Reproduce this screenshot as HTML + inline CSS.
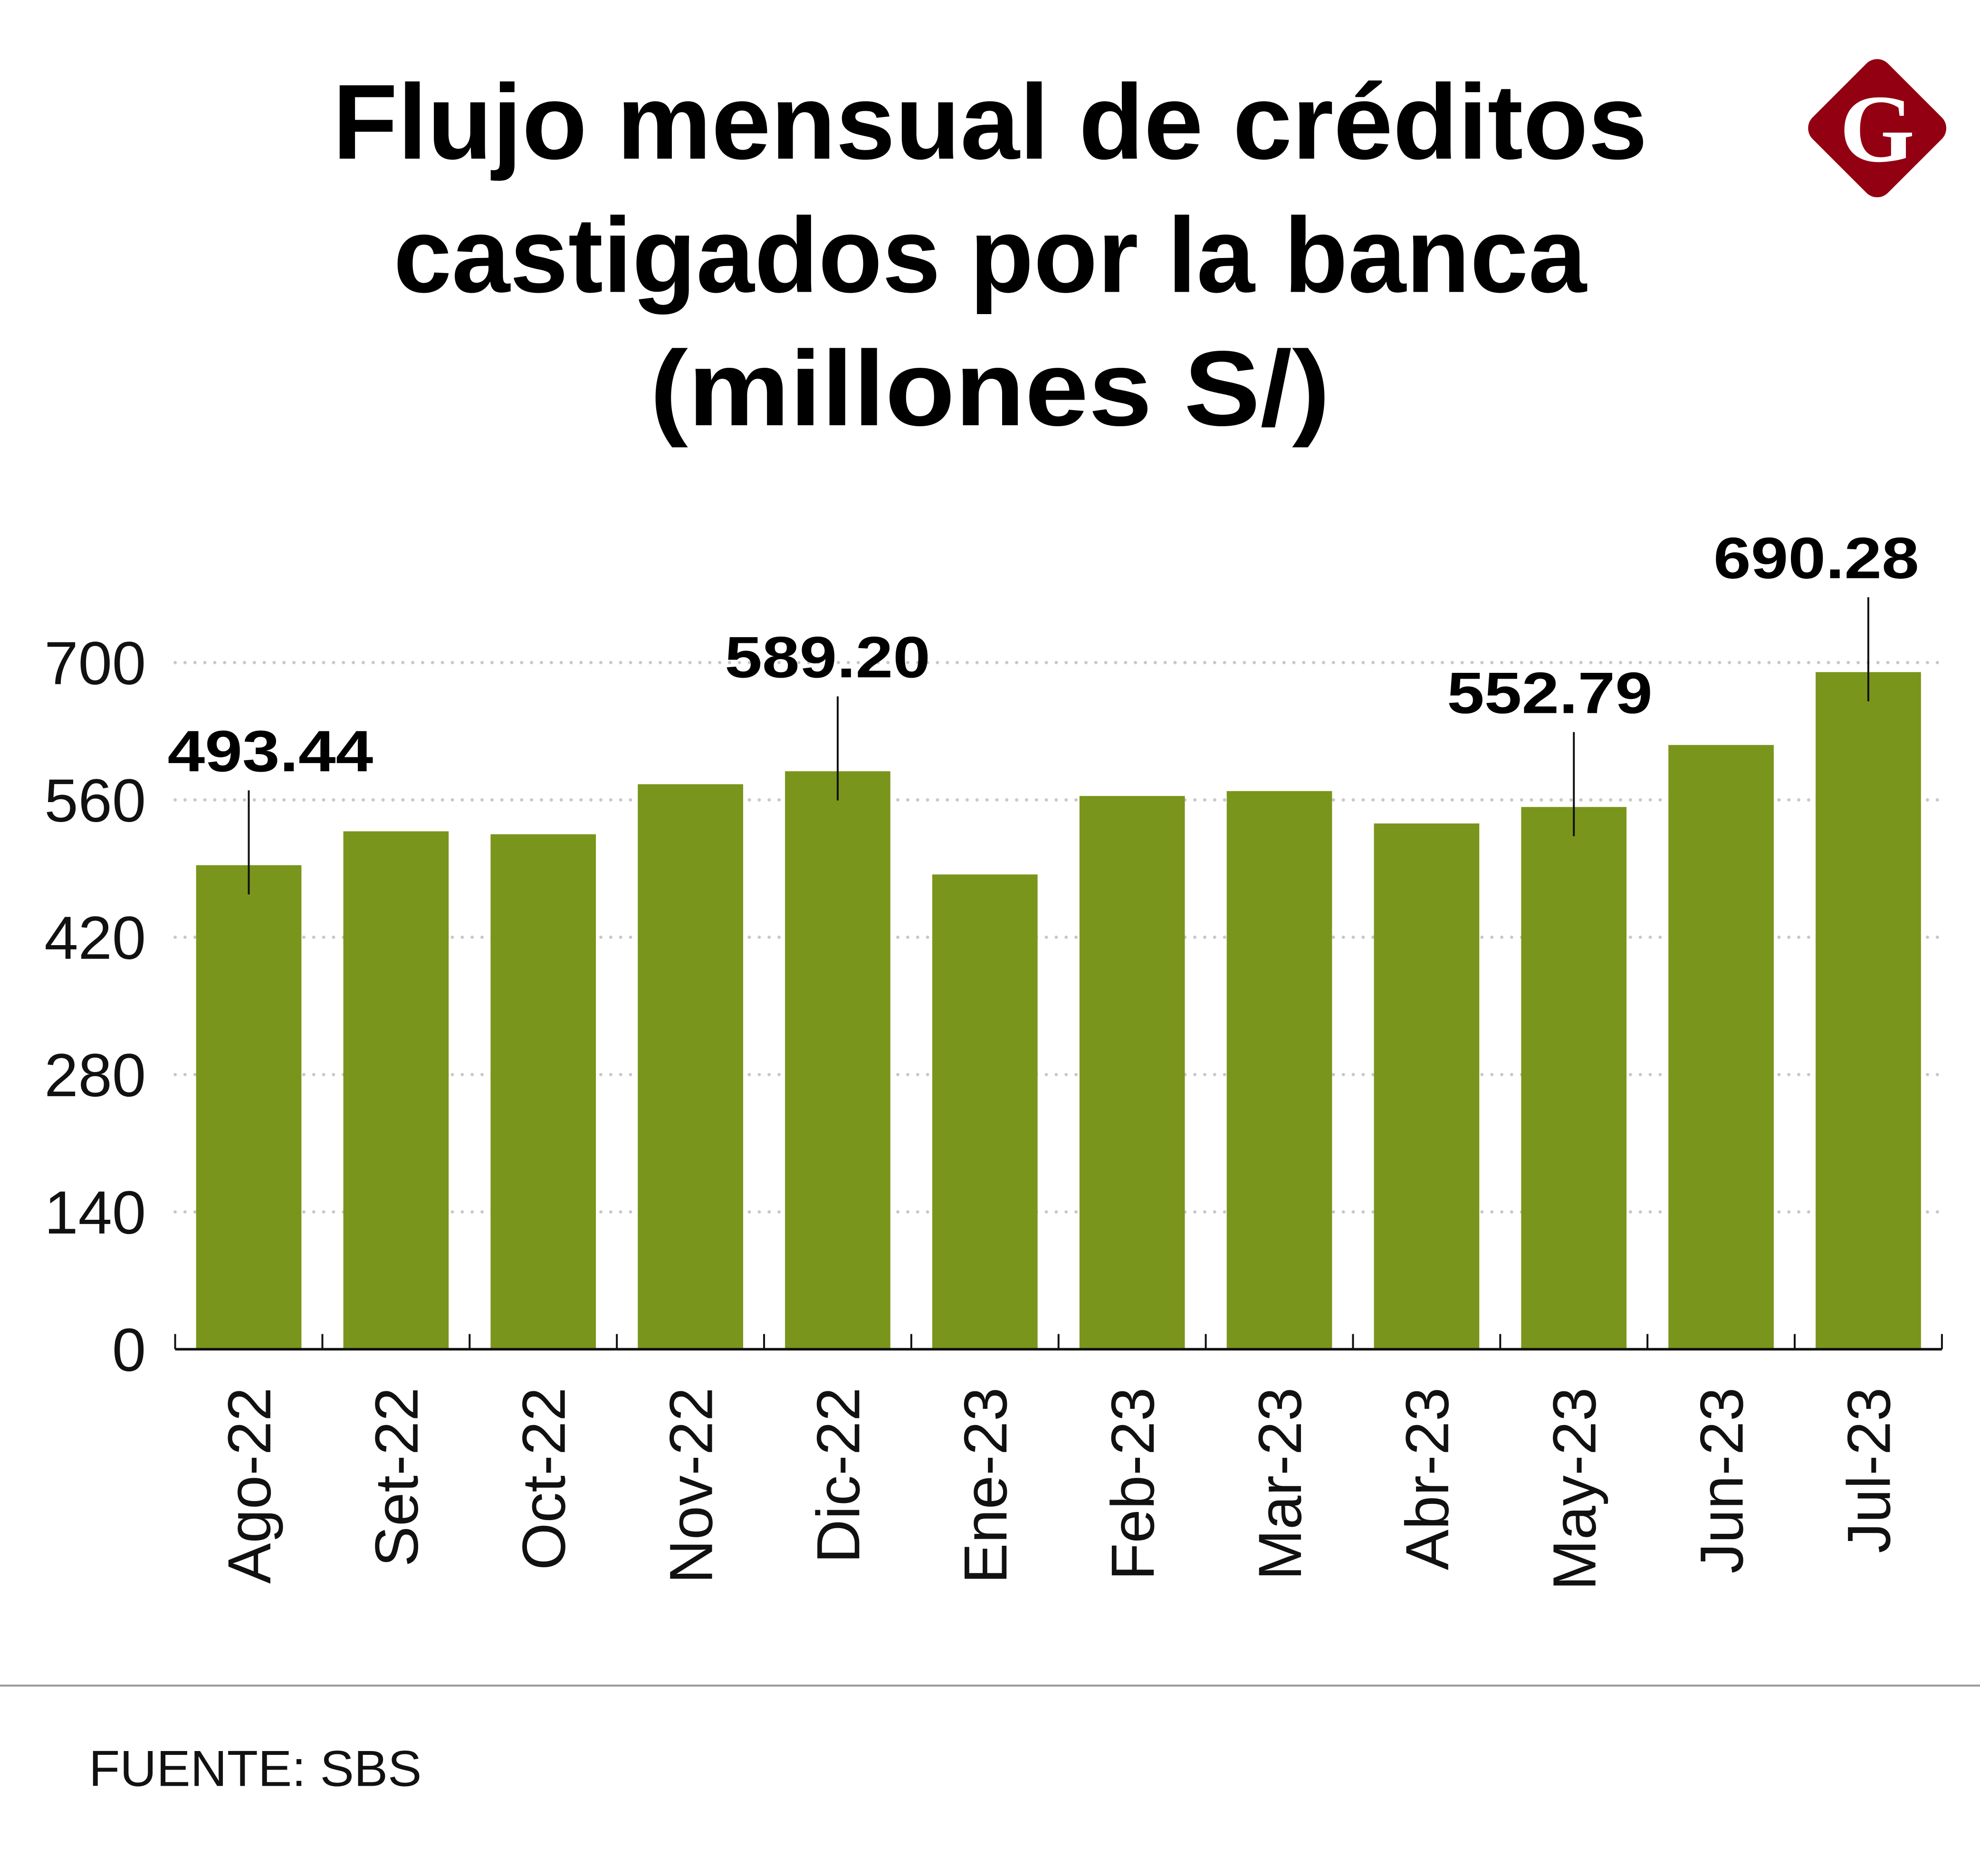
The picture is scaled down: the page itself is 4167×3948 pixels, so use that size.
<!DOCTYPE html>
<html><head><meta charset="utf-8">
<style>
html,body{margin:0;padding:0;background:#fff;}
svg{display:block;}
</style></head>
<body>
<svg id="chart" width="4167" height="3948" viewBox="0 0 1560 1478" xmlns="http://www.w3.org/2000/svg" font-family="'Liberation Sans', 'DejaVu Sans', sans-serif">
  <rect width="1560" height="1478" fill="#fff"/>
  <g font-weight="bold" font-size="84" text-anchor="middle" fill="#000">
    <text x="780" y="125" textLength="1036" lengthAdjust="spacingAndGlyphs">Flujo mensual de créditos</text>
    <text x="780" y="230" textLength="940" lengthAdjust="spacingAndGlyphs">castigados por la banca</text>
    <text x="780" y="335" textLength="536" lengthAdjust="spacingAndGlyphs">(millones S/)</text>
  </g>
  <g>
    <rect x="1437" y="59" width="84" height="84" rx="12" fill="#920012" transform="rotate(45 1479 101)"/>
    <text x="1479" y="127" font-family="'Liberation Serif', serif" font-weight="bold" font-size="76" fill="#fff" text-anchor="middle">G</text>
  </g>
  <g id="grid"></g>
  <g id="yticks"></g>
  <g id="bars"></g>
  <g id="annot"></g>
  <g id="xaxis"></g>
  <line x1="0" y1="1328" x2="1560" y2="1328" stroke="#9a9a9a" stroke-width="1.5"/>
  <text x="70" y="1407" font-size="40" fill="#111">FUENTE: SBS</text>
</svg>
<script>
const categories = ["Ago-22","Set-22","Oct-22","Nov-22","Dic-22","Ene-23","Feb-23","Mar-23","Abr-23","May-23","Jun-23","Jul-23"];
const values = [493.44, 528, 525, 576, 589.20, 484, 564, 569, 536, 552.79, 616, 690.28];
const annotatedIdx = [0, 4, 9, 11];
const annotationText = ["493.44", "589.20", "552.79", "690.28"];
const yTicks = [0, 140, 280, 420, 560, 700];

const NS = "http://www.w3.org/2000/svg";
const X0 = 138, X1 = 1530, Y0 = 1063, YMAXV = 700, YMAXPX = 522;
const slot = (X1 - X0) / categories.length;
const barW = 83;
const labelShift = [17, -8, -19, -41];
function y(v){ return Y0 - (v / YMAXV) * (Y0 - YMAXPX); }
function xc(i){ return X0 + slot * (i + 0.5); }
function mk(tag, attrs, parent){ const e = document.createElementNS(NS, tag); for (const k in attrs) e.setAttribute(k, attrs[k]); parent.appendChild(e); return e; }

const grid = document.getElementById('grid');
const yt = document.getElementById('yticks');
yTicks.forEach(t => {
  if (t > 0) {
    const l = mk('line', {x1: X0, x2: X1, y1: y(t), y2: y(t), stroke: '#c8c8c8', 'stroke-width': 2.6, 'stroke-linecap': 'round', 'stroke-dasharray': '0 7.8'}, grid);
    
    
  }
  const tx = mk('text', {x: 115, y: y(t) + 17, 'font-size': 48, 'text-anchor': 'end', fill: '#111'}, yt);
  tx.textContent = t;
  
  
});

const bars = document.getElementById('bars');
values.forEach((v, i) => {
  const r = mk('rect', {x: xc(i) - barW / 2, y: y(v), width: barW, height: Y0 - y(v), fill: '#7a951b'}, bars);
  
  
});

const an = document.getElementById('annot');
annotatedIdx.forEach((i, k) => {
  const top = y(values[i]);
  const l = mk('line', {x1: xc(i), x2: xc(i), y1: top - 59, y2: top + 23, stroke: '#111', 'stroke-width': 1.5}, an);
  
  
  const t = mk('text', {x: xc(i) + labelShift[k], y: top - 74, 'font-size': 46, 'font-weight': 'bold', 'text-anchor': 'middle', fill: '#000', textLength: 162, lengthAdjust: 'spacingAndGlyphs'}, an);
  t.textContent = annotationText[k];
  
  
});

const xa = document.getElementById('xaxis');
const ax = mk('line', {x1: X0, x2: X1, y1: Y0, y2: Y0, stroke: '#111', 'stroke-width': 2}, xa);


for (let i = 0; i <= categories.length; i++) {
  const tk = mk('line', {x1: X0 + slot * i, x2: X0 + slot * i, y1: Y0 - 12, y2: Y0, stroke: '#111', 'stroke-width': 1.5}, xa);
  
  
}
categories.forEach((c, i) => {
  const t = mk('text', {x: 0, y: 0, 'font-size': 48, 'text-anchor': 'end', fill: '#111', transform: 'translate(' + (xc(i) + 17) + ',' + 1093 + ') rotate(-90)'}, xa);
  t.textContent = c;
  
  
});
</script>
</body></html>
